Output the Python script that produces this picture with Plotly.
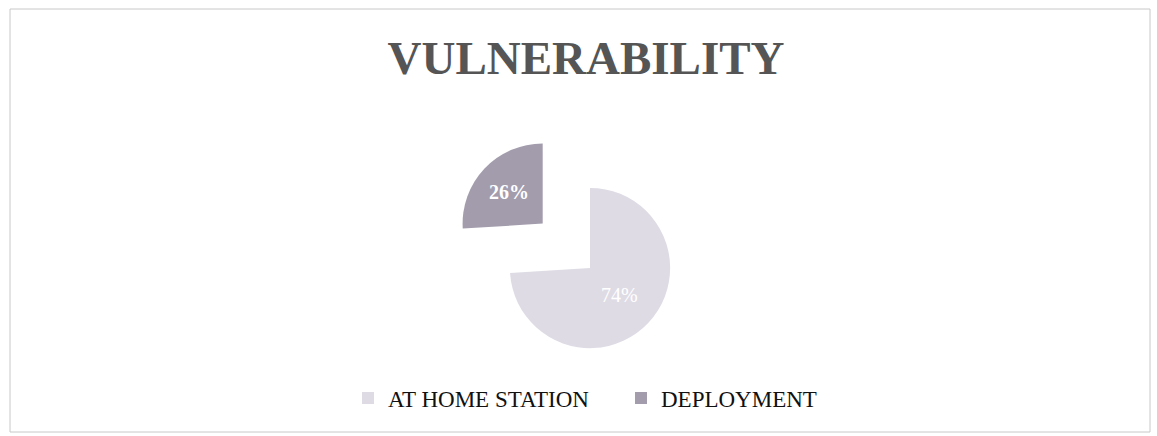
import plotly.graph_objects as go

labels = ["AT HOME STATION", "DEPLOYMENT"]
values = [74, 26]
text_labels = ["74%", "<b>26%</b>"]
slice_colors = ["#DEDBE5", "#A39CAD"]
pulls = [0, 0.81]

W, H = 1157, 436

fig = go.Figure(go.Pie(
    labels=labels,
    values=values,
    text=text_labels,
    textinfo="text",
    textposition="inside",
    insidetextorientation="horizontal",
    sort=False,
    direction="clockwise",
    rotation=0,
    pull=pulls,
    marker=dict(colors=slice_colors, line=dict(width=0)),
    textfont=dict(family="Liberation Serif", size=20, color="white"),
    domain=dict(x=[0.3846, 0.6353], y=[0.0527, 0.7179]),
    showlegend=True,
))

fig.update_layout(
    width=W, height=H,
    margin=dict(l=0, r=0, t=0, b=0),
    paper_bgcolor="white",
    plot_bgcolor="white",
    title=dict(
        text="<b>VULNERABILITY</b>",
        x=586 / W, xanchor="center",
        y=1 - 58 / H, yanchor="middle",
        font=dict(family="Liberation Serif", size=47, color="#555555"),
    ),
    legend=dict(
        orientation="h",
        x=348 / W, xanchor="left",
        y=1 - 398 / H, yanchor="middle",
        font=dict(family="Liberation Serif", size=23, color="#111111"),
        itemsizing="constant",
        traceorder="normal",
        entrywidth=228,
        entrywidthmode="pixels",
    ),
    shapes=[dict(
        type="rect", xref="paper", yref="paper",
        x0=10 / W, x1=1150 / W, y0=1 - 432 / H, y1=1 - 9 / H,
        line=dict(color="#C8C8C8", width=1),
        fillcolor="rgba(0,0,0,0)",
    )],
)

fig.write_html("out.html", config={"displayModeBar": False},
               post_script="document.body.style.margin='0';")
